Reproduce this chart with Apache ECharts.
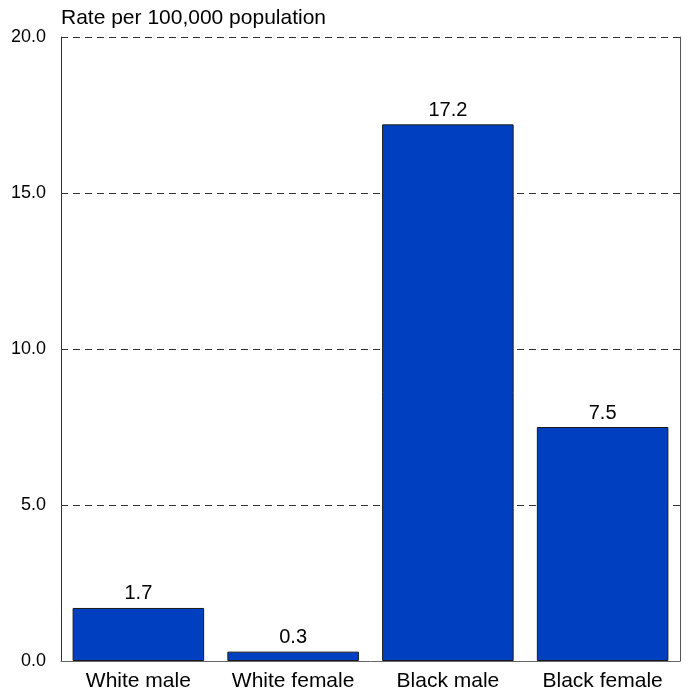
<!DOCTYPE html>
<html><head><meta charset="utf-8">
<script src="https://cdn.jsdelivr.net/npm/echarts@6/dist/echarts.min.js"></script>
<style>html,body{margin:0;padding:0;background:#fff}#c{width:688px;height:694px}</style>
</head><body><div id="c"></div>
<script>
var categories = ["White male", "White female", "Black male", "Black female"];
var rates = [1.7, 0.3, 17.2, 7.5];
var yTitle = "Rate per 100,000 population";

var chart = echarts.init(document.getElementById('c'));
var font = 'Liberation Sans, Arial, sans-serif';
chart.setOption({
  animation: false,
  grid: {left: 61, right: 8, top: 37, bottom: 33},
  xAxis: {
    type: 'category', data: categories,
    axisLine: {show: true, lineStyle: {color: '#666', width: 1}},
    axisTick: {show: false},
    axisLabel: {color: '#000', fontSize: 21, fontFamily: font, margin: 10, interval: 0, hideOverlap: false}
  },
  yAxis: [{
    type: 'value', min: 0, max: 20, interval: 5,
    name: yTitle, nameLocation: 'end', nameGap: 8,
    nameTextStyle: {color: '#000', fontSize: 21, fontFamily: font, align: 'left', padding: [0,0,0,0]},
    axisLine: {show: true, lineStyle: {color: '#333', width: 1}},
    axisTick: {show: false},
    axisLabel: {color: '#000', fontSize: 18, fontFamily: font, margin: 15,
      formatter: function(v){return v.toFixed(1);}},
    splitLine: {show: true, lineStyle: {color: '#333', type: [7,5], width: 1}}
  }, {
    type: 'value', min: 0, max: 20, interval: 5, position: 'right',
    axisLine: {show: true, lineStyle: {color: '#555', width: 1}},
    axisTick: {show: false}, axisLabel: {show: false}, splitLine: {show: false}
  }],
  series: [{
    type: 'bar', data: rates, barCategoryGap: '15%',
    itemStyle: {color: '#0040C0', borderColor: '#1a1a1a', borderWidth: 1},
    label: {show: true, position: 'top', distance: 4, color: '#000', fontSize: 20, fontFamily: font,
      formatter: function(p){return p.value.toFixed(1);}}
  }]
});
</script></body></html>
